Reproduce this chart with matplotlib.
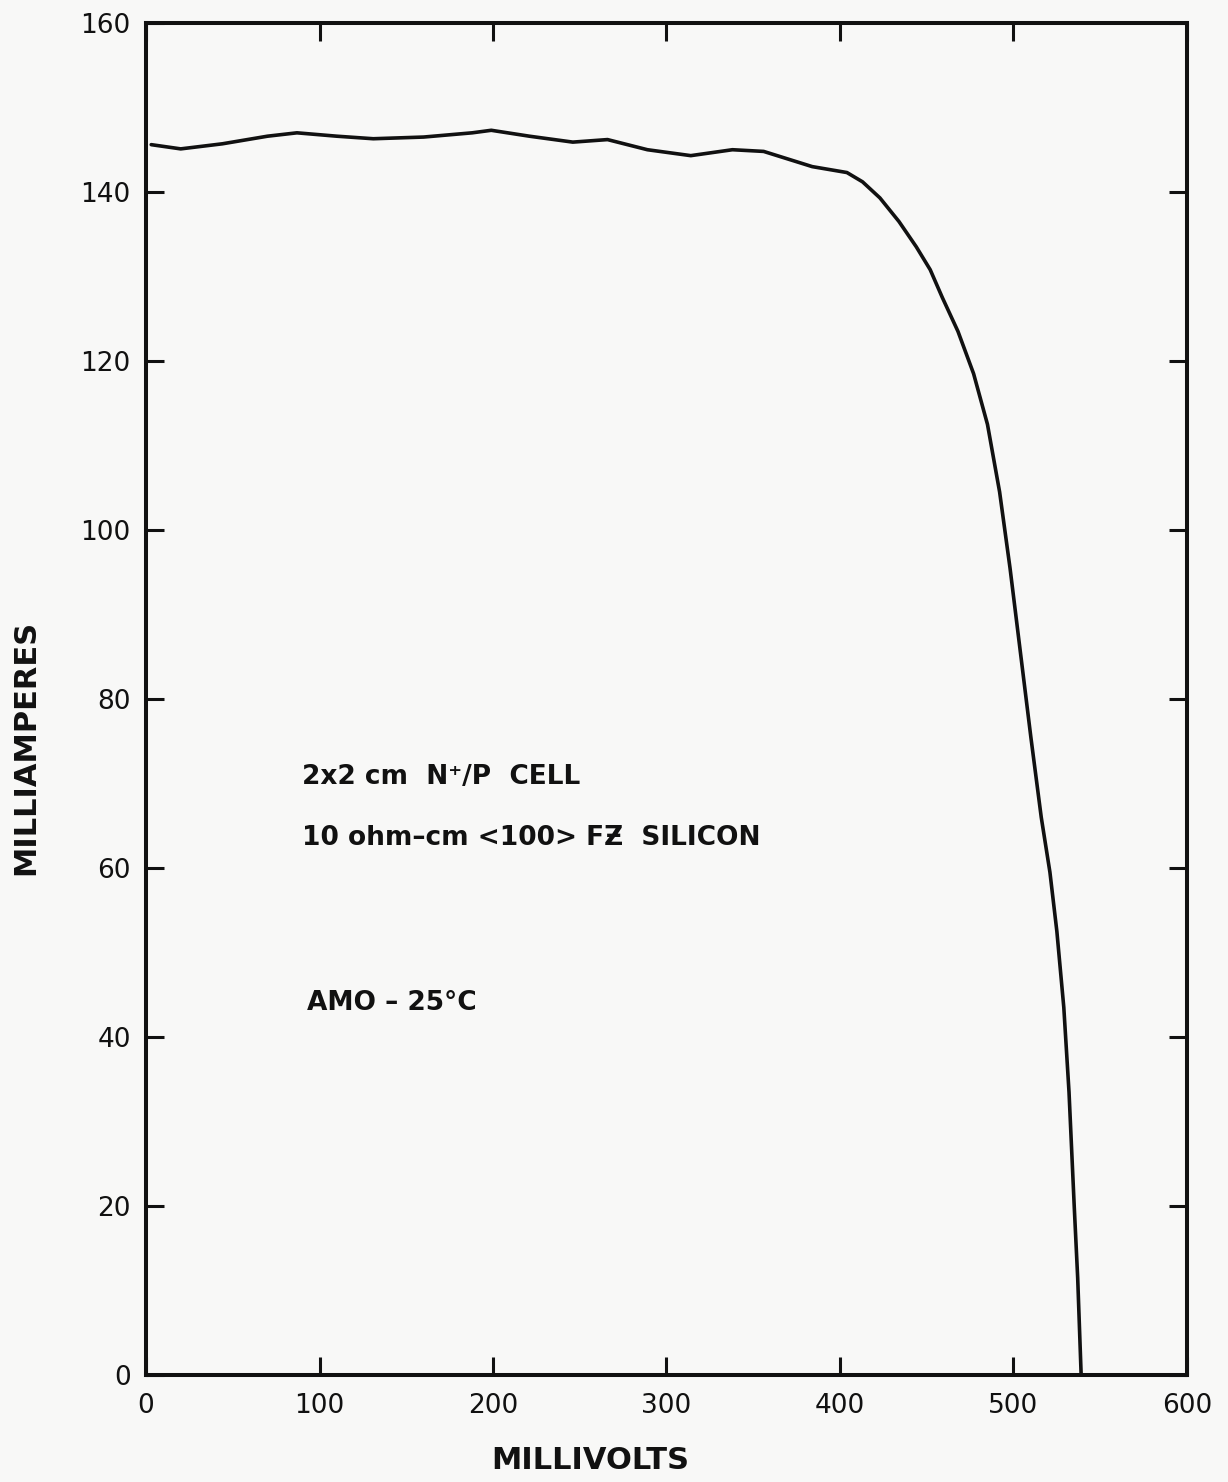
#!/usr/bin/env python3
"""I-V curve of a 2x2 cm N+/P silicon cell under AM0 illumination."""

import matplotlib

matplotlib.use("Agg")
import matplotlib.pyplot as plt

# curve (mV, mA)
voltage_mv = [3, 20, 44, 70, 87, 110, 131, 160, 188, 199, 221, 246, 266, 289,
              314, 338, 356, 384, 404, 413, 423, 434, 444, 452, 459, 468, 477,
              485, 492, 498, 504, 510, 516, 521, 525, 529, 532, 535, 537, 539]
current_ma = [145.6, 145.1, 145.7, 146.6, 147.0, 146.6, 146.3, 146.5, 147.0,
              147.3, 146.6, 145.9, 146.2, 145.0, 144.3, 145.0, 144.8, 143.0,
              142.3, 141.2, 139.3, 136.5, 133.5, 130.8, 127.5, 123.5, 118.5,
              112.5, 104.5, 95.5, 85.5, 75.5, 66.0, 59.5, 52.5, 43.5, 33.5,
              20.0, 11.5, 0.0]

x_ticks = [0, 100, 200, 300, 400, 500, 600]
y_ticks = [0, 20, 40, 60, 80, 100, 120, 140, 160]

notes = [
    "2x2 cm  N\u207a/P  CELL",
    "10 ohm\u2013cm <100> F\u01b5  SILICON",
    "AMO \u2013 25\u00b0C",
]
note_pos = [(90, 70.8), (90, 63.6), (93, 44.0)]

PAPER = "#f8f8f7"
INK = "#111111"

fig = plt.figure(figsize=(12.28, 14.82), dpi=100, facecolor=PAPER)
ax = fig.add_axes([0.1189, 0.0722, 0.8477, 0.9123], facecolor=PAPER)

ax.plot(voltage_mv, current_ma, color=INK, linewidth=2.6,
        solid_joinstyle="round", solid_capstyle="round")

ax.set_xlim(0, 600)
ax.set_ylim(0, 160)
ax.set_xticks(x_ticks)
ax.set_yticks(y_ticks)
ax.tick_params(axis="both", which="major", direction="in", length=13, width=2.2,
               color=INK, labelcolor=INK, labelsize=19,
               top=True, right=True)
ax.tick_params(axis="x", pad=13)
ax.tick_params(axis="y", pad=11)
for spine in ax.spines.values():
    spine.set_linewidth(2.9)
    spine.set_color(INK)

ax.set_xlabel("MILLIVOLTS", fontsize=22, fontweight="bold", color=INK, va="center")
ax.xaxis.set_label_coords(0.4265, -0.063)
ax.set_ylabel("MILLIAMPERES", fontsize=22, fontweight="bold", color=INK, va="center")
ax.yaxis.set_label_coords(-0.116, 0.4645)

for text, (xv, yv) in zip(notes, note_pos):
    ax.text(xv, yv, text, fontsize=19, fontweight="bold", color=INK,
            ha="left", va="center")

fig.savefig("out.png", dpi=100, facecolor=PAPER)
plt.close(fig)
